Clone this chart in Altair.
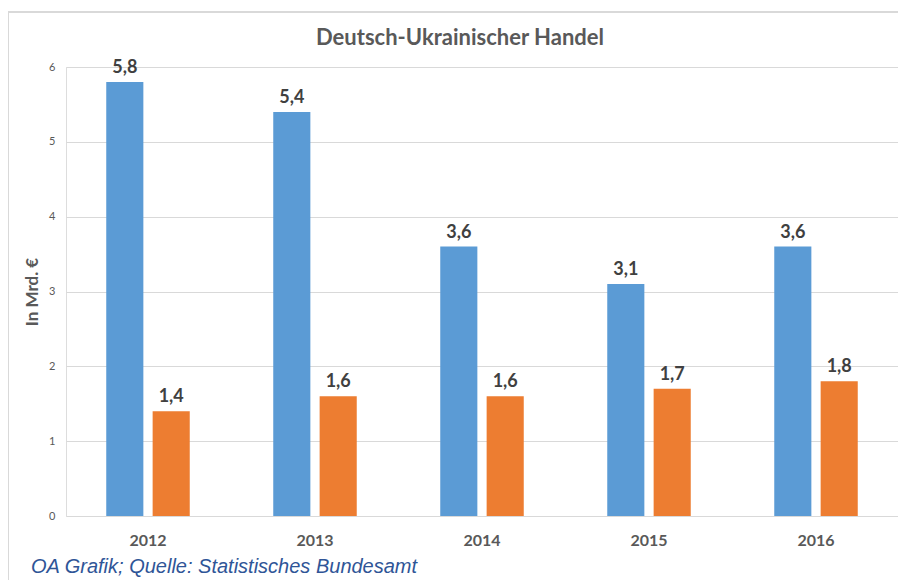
import altair as alt
import pandas as pd

years = ["2012", "2013", "2014", "2015", "2016"]
exporte = [5.8, 5.4, 3.6, 3.1, 3.6]
importe = [1.4, 1.6, 1.6, 1.7, 1.8]
series_names = ["Exporte", "Importe"]
series_colors = ["#5b9bd5", "#ed7d31"]
title_text = "Deutsch-Ukrainischer Handel"
y_title = "In Mrd. €"
footer_text = "OA Grafik; Quelle: Statistisches Bundesamt"

rows = []
for i, y in enumerate(years):
    rows.append({"Jahr": y, "Serie": series_names[0], "Wert": exporte[i],
                 "Label": f"{exporte[i]:.1f}".replace(".", ",")})
    rows.append({"Jahr": y, "Serie": series_names[1], "Wert": importe[i],
                 "Label": f"{importe[i]:.1f}".replace(".", ",")})
df = pd.DataFrame(rows)

FONT = "Lato"
GRAY = "#595959"

x_enc = alt.X("Jahr:N", sort=years, title=None,
              scale=alt.Scale(paddingInner=0.5, paddingOuter=0.241),
              axis=alt.Axis(labelAngle=0, labelFont=FONT, labelFontSize=16,
                            labelFontWeight="bold", labelColor=GRAY,
                            labelPadding=16, ticks=False, domain=False))
xoff = alt.XOffset("Serie:N", sort=series_names,
                   scale=alt.Scale(paddingInner=0.2))
y_enc = alt.Y("Wert:Q", title=y_title,
              scale=alt.Scale(domain=[0, 6], nice=False),
              axis=alt.Axis(values=[0, 1, 2, 3, 4, 5, 6], format="d",
                            labelFont=FONT,
                            labelFontSize=11, labelColor=GRAY, labelPadding=11,
                            ticks=False, domain=False, gridColor="#d9d9d9",
                            gridWidth=1, titleFont=FONT, titleFontSize=17,
                            titleFontWeight="bold", titleColor=GRAY,
                            titlePadding=7))
color = alt.Color("Serie:N", sort=series_names,
                  scale=alt.Scale(domain=series_names, range=series_colors),
                  legend=None)

base = alt.Chart(df)
bars = base.mark_bar().encode(x=x_enc, xOffset=xoff, y=y_enc, color=color)
labels = base.mark_text(baseline="bottom", dy=-5, font=FONT, fontSize=18,
                        fontWeight="bold", color="#404040").encode(
    x=alt.X("Jahr:N", sort=years), xOffset=xoff, y="Wert:Q", text="Label:N")

deco = pd.DataFrame({"t": [title_text], "f": [footer_text]})
frame = alt.Chart(deco).mark_rect(fill=None, stroke="#d9d9d9",
                                  strokeWidth=2).encode(
    x=alt.value(-58), x2=alt.value(850), y=alt.value(-55), y2=alt.value(580))
title = alt.Chart(deco).mark_text(font=FONT, fontSize=22, fontWeight="bold",
                                  color=GRAY, align="center",
                                  baseline="middle").encode(
    x=alt.value(394), y=alt.value(-29), text="t:N")
footer = alt.Chart(deco).mark_text(font="Liberation Sans", fontSize=20,
                                   fontStyle="italic", color="#2f5597",
                                   align="left", baseline="middle").encode(
    x=alt.value(-35), y=alt.value(500), text="f:N")

chart = alt.layer(frame, bars, labels, title, footer).properties(
    width=832, height=449,
    padding={"left": 58, "top": 59, "right": 0, "bottom": 64},
    autosize=alt.AutoSizeParams(type="none"),
).configure_view(stroke=None).configure(background="white")

chart.save("out.html", embed_options={"renderer": "svg", "actions": False})
